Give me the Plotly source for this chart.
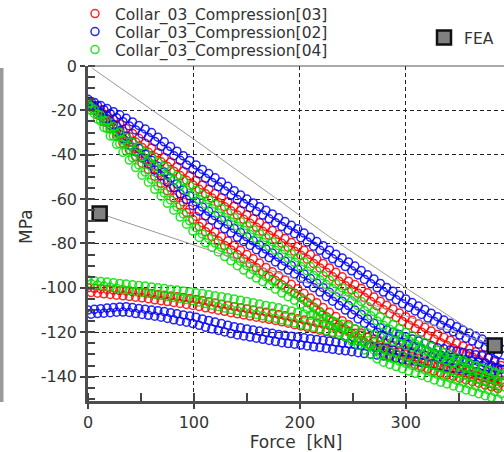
import plotly.graph_objects as go

# ---------------- data ----------------
# two passes of each branch are visible; pass A sampled at FORCE_KN, pass B at FORCE_KN_B
FORCE_KN = [0, 6, 12, 18, 24, 30, 36, 42, 48, 54, 60,
            66, 72, 78, 84, 90, 96, 102, 108, 114, 120, 126,
            132, 138, 144, 150, 156, 162, 168, 174, 180, 186, 192,
            198, 204, 210, 216, 222, 228, 234, 240, 246, 252, 258,
            264, 270, 276, 282, 288, 294, 300, 306, 312, 318, 324,
            330, 336, 342, 348, 354, 360, 366, 372, 378, 384, 390]
FORCE_KN_B = [3, 9, 15, 21, 27, 33, 39, 45, 51, 57,
              63, 69, 75, 81, 87, 93, 99, 105, 111, 117,
              123, 129, 135, 141, 147, 153, 159, 165, 171, 177,
              183, 189, 195, 201, 207, 213, 219, 225, 231, 237,
              243, 249, 255, 261, 267, 273, 279, 285, 291, 297,
              303, 309, 315, 321, 327, 333, 339, 345, 351, 357,
              363, 369, 375, 381, 387]

# Collar_03_Compression[02] (blue)
BLUE_UPPER = [-15, -16.4, -17.8, -19.2, -20.6, -22, -23.6, -25.2, -26.8, -28.4, -30,
              -32.1, -34.2, -36.3, -38.4, -40.5, -42.6, -44.6, -46.6, -48.5, -50.4, -52.3,
              -54.2, -56.2, -58.1, -60, -61.7, -63.4, -65, -66.7, -68.4, -70.1, -71.8,
              -73.4, -75.3, -77.2, -79.1, -81, -83, -84.8, -86.5, -88.3, -90.2, -92.2,
              -94.1, -96, -98, -99.8, -101.5, -103.3, -105, -106.6, -108.2, -109.8, -111.4,
              -113, -114.5, -116, -117.5, -119, -120.3, -121.7, -123, -124.5, -126, -127.5]
BLUE_UPPER_B = [-16, -17.9, -19.7, -21.5, -23.3, -25.1, -27, -28.8, -30.6, -32.2,
                -34, -36.2, -38.3, -40.4, -42.5, -44.6, -46.6, -48.6, -50.6, -52.5,
                -54.4, -56.3, -58.2, -60.2, -62.1, -63.9, -65.6, -67.2, -68.9, -70.6,
                -72.3, -74, -75.6, -77.4, -79.3, -81.2, -83.1, -85, -86.9, -88.7,
                -90.4, -92.3, -94.2, -96.2, -98.1, -100, -101.9, -103.7, -105.4, -107.2,
                -108.8, -110.4, -112, -113.6, -115.2, -116.8, -118.3, -119.8, -121.3, -122.7,
                -124, -125.4, -126.8, -128.3, -129.8]
BLUE_MIDDLE = [-16, -18.6, -21.2, -23.8, -26.4, -29, -31.7, -34.4, -37.1, -39.8, -42.5,
               -45.2, -47.8, -50.5, -53.2, -55.9, -58.5, -61.2, -63.6, -65.5, -67.5, -69.4,
               -71.3, -73.2, -75.1, -77, -78.8, -80.7, -82.5, -84.3, -86.2, -88, -89.9,
               -91.7, -93.7, -95.8, -97.9, -99.9, -102, -104, -106, -108, -110, -112,
               -114, -116, -118, -119, -120, -121, -122, -123, -124, -125, -126,
               -127, -127.5, -128, -128.6, -129.1, -129.6, -130.1, -130.6, -131.4, -132.5, -133.6]
BLUE_MIDDLE_B = [-17.6, -20.7, -23.7, -26.7, -29.7, -32.7, -35.7, -38.6, -41.5, -44.2,
                 -46.9, -49.5, -52.2, -54.9, -57.6, -60.2, -62.9, -65.4, -67.6, -69.5,
                 -71.5, -73.4, -75.3, -77.2, -79.1, -80.9, -82.8, -84.6, -86.4, -88.3,
                 -90.1, -92, -93.8, -95.7, -97.8, -99.9, -101.9, -104, -106, -108,
                 -110, -112, -114, -116, -118, -120, -121.5, -122.5, -123.5, -124.5,
                 -125.5, -126.5, -127.5, -128.5, -129.5, -130.3, -130.8, -131.3, -131.9, -132.4,
                 -132.9, -133.4, -134, -135, -136]
BLUE_LOWER = [-110, -109.7, -109.4, -109.1, -108.9, -108.6, -108.5, -108.9, -109.3, -109.6, -110,
              -110.3, -110.7, -111.2, -111.7, -112.2, -112.7, -113.2, -114, -114.7, -115.4, -116.1,
              -116.8, -117.5, -118, -118.5, -119, -119.5, -120, -120.5, -121, -121.4, -121.8,
              -122.1, -122.5, -122.9, -123.3, -123.6, -124, -124.4, -124.8, -125.1, -125.5, -125.9,
              -126.3, -126.6, -127, -127.5, -128, -128.5, -129, -129.5, -130, -130.4, -130.9,
              -131.4, -131.9, -132.4, -132.8, -133.3, -133.9, -134.4, -135, -135.6, -136.1, -136.7]
BLUE_LOWER_B = [-111.9, -111.6, -111.4, -111.2, -111, -110.9, -111.1, -111.6, -112, -112.4,
                -112.8, -113.2, -113.8, -114.4, -115, -115.5, -116.1, -116.9, -117.8, -118.5,
                -119.2, -119.9, -120.6, -121.2, -121.7, -122.2, -122.7, -123.2, -123.7, -124.2,
                -124.7, -125.1, -125.4, -125.8, -126.2, -126.6, -126.9, -127.3, -127.7, -128.1,
                -128.4, -128.8, -129.2, -129.6, -129.9, -130.3, -130.7, -131.2, -131.7, -132.2,
                -132.7, -133.2, -133.7, -134.1, -134.6, -135.1, -135.6, -136.1, -136.5, -137.1,
                -137.6, -138.2, -138.8, -139.3, -139.9]

# Collar_03_Compression[03] (red)
RED_UPPER = [-16, -18, -20, -22, -24, -26, -28.2, -30.4, -32.6, -34.8, -37,
             -39.1, -41.2, -43.3, -45.4, -47.4, -49.5, -51.6, -53.6, -55.5, -57.5, -59.4,
             -61.3, -63.2, -65.1, -67, -68.8, -70.6, -72.4, -74.2, -76, -77.8, -79.6,
             -81.4, -83.1, -85, -87, -89, -91, -93, -95, -97, -98.5, -100.3,
             -102.2, -104.1, -106, -107.8, -109.5, -111.3, -113, -114.6, -116.2, -117.8, -119.4,
             -121, -122.3, -123.6, -124.9, -126.2, -127.5, -128.8, -130, -131.5, -133.3, -135]
RED_UPPER_B = [-17.3, -19.8, -22.2, -24.6, -27, -29.4, -31.9, -34.3, -36.7, -38.9,
               -41, -43.2, -45.3, -47.4, -49.4, -51.5, -53.6, -55.6, -57.6, -59.5,
               -61.5, -63.4, -65.3, -67.2, -69.1, -70.9, -72.7, -74.5, -76.3, -78.1,
               -79.9, -81.7, -83.5, -85.3, -87.1, -89, -91, -93, -95, -97,
               -99, -100.8, -102.4, -104.3, -106.2, -108.1, -109.9, -111.7, -113.4, -115.2,
               -116.8, -118.4, -120, -121.6, -123.2, -124.7, -126, -127.3, -128.6, -129.9,
               -131.2, -132.4, -133.8, -135.4, -137.2]
RED_MIDDLE = [-17, -19.8, -22.6, -25.4, -28.2, -31, -33.8, -36.6, -39.4, -42.2, -45,
              -48.3, -51.5, -54.8, -58, -61.3, -64.6, -67.8, -70.7, -72.7, -74.8, -76.8,
              -78.9, -80.9, -83, -85, -86.9, -88.8, -90.8, -92.7, -94.6, -96.5, -98.4,
              -100.4, -102.4, -104.6, -106.7, -108.9, -111, -112.9, -114.8, -116.6, -118.5, -120.4,
              -122.3, -124.1, -126, -127, -128, -129, -130, -131, -132, -133, -134,
              -135, -135.8, -136.5, -137.3, -138.1, -138.9, -139.6, -140.4, -141.2, -142, -142.7]
RED_MIDDLE_B = [-18.7, -22, -25.2, -28.4, -31.6, -34.7, -37.8, -40.8, -43.8, -46.6,
                -49.7, -52.9, -56.2, -59.4, -62.7, -66, -69.2, -72.3, -74.7, -76.8,
                -78.8, -80.9, -82.9, -85, -87, -89, -90.9, -92.8, -94.8, -96.7,
                -98.6, -100.5, -102.4, -104.4, -106.5, -108.7, -110.8, -113, -115, -116.9,
                -118.7, -120.6, -122.5, -124.4, -126.2, -128.1, -129.5, -130.5, -131.5, -132.5,
                -133.5, -134.5, -135.5, -136.5, -137.5, -138.4, -139.2, -139.9, -140.7, -141.5,
                -142.3, -143, -143.8, -144.6, -145.4]
RED_LOWER = [-100, -100.2, -100.5, -100.7, -101, -101.2, -101.4, -101.7, -101.9, -102.2, -102.6,
             -103, -103.3, -103.7, -104, -104.4, -104.8, -105.2, -105.7, -106.3, -106.8, -107.4,
             -107.9, -108.5, -109, -109.5, -110, -110.5, -111, -111.5, -112, -112.6, -113.3,
             -113.9, -114.5, -115.1, -115.8, -116.4, -117, -117.9, -118.8, -119.6, -120.5, -121.4,
             -122.3, -123.1, -124, -125, -126, -127, -128, -128.8, -129.7, -130.5, -131.4,
             -132.2, -133, -133.9, -134.7, -135.7, -136.7, -137.7, -138.7, -139.7, -140.7, -141.7]
RED_LOWER_B = [-102.1, -102.4, -102.7, -103, -103.3, -103.6, -103.9, -104.2, -104.5, -104.9,
               -105.4, -105.8, -106.2, -106.6, -107, -107.5, -107.9, -108.4, -109, -109.5,
               -110.1, -110.6, -111.2, -111.7, -112.2, -112.7, -113.2, -113.7, -114.2, -114.7,
               -115.3, -115.9, -116.6, -117.2, -117.8, -118.4, -119.1, -119.7, -120.4, -121.3,
               -122.2, -123, -123.9, -124.8, -125.7, -126.5, -127.5, -128.5, -129.5, -130.5,
               -131.4, -132.2, -133.1, -133.9, -134.8, -135.6, -136.4, -137.3, -138.2, -139.2,
               -140.2, -141.2, -142.2, -143.2, -144.2]

# Collar_03_Compression[04] (green)
GREEN_UPPER = [-17, -19.6, -22.2, -24.8, -27.4, -30, -32.2, -34.4, -36.6, -38.8, -41,
               -43.2, -45.3, -47.4, -49.6, -51.8, -53.9, -56.1, -58.2, -60.3, -62.3, -64.3,
               -66.3, -68.3, -70.1, -72, -73.8, -75.6, -77.4, -79.2, -81, -82.8, -84.6,
               -86.4, -88.3, -90.4, -92.4, -94.5, -96.5, -98.2, -100, -101.7, -103.8, -106.1,
               -108.4, -110.7, -113, -114.8, -116.5, -118.3, -120, -121.6, -123.2, -124.8, -126.4,
               -128, -129.2, -130.3, -131.5, -132.7, -133.9, -135, -136.2, -137.4, -138.5, -139.6]
GREEN_UPPER_B = [-18.6, -21.7, -24.7, -27.7, -30.7, -33.4, -35.9, -38.3, -40.7, -42.9,
                 -45.1, -47.3, -49.4, -51.5, -53.7, -55.9, -58, -60.2, -62.3, -64.3,
                 -66.3, -68.3, -70.3, -72.2, -74, -75.9, -77.7, -79.5, -81.3, -83.1,
                 -84.9, -86.7, -88.5, -90.4, -92.4, -94.4, -96.5, -98.5, -100.4, -102.1,
                 -103.9, -105.8, -108, -110.3, -112.6, -114.9, -116.9, -118.7, -120.4, -122.2,
                 -123.8, -125.4, -127, -128.6, -130.2, -131.6, -132.8, -133.9, -135.1, -136.3,
                 -137.5, -138.6, -139.8, -141, -142]
GREEN_MIDDLE = [-18, -21.4, -24.8, -28.2, -31.6, -35, -38.2, -41.4, -44.6, -47.8, -51,
                -54.1, -57.3, -60.4, -63.5, -66.7, -69.8, -72.9, -75.7, -77.7, -79.8, -81.8,
                -83.9, -85.9, -88, -90, -91.7, -93.4, -95, -96.7, -98.4, -100.1, -101.8,
                -103.4, -105.4, -107.6, -109.7, -111.9, -114, -116, -118, -120, -122, -124,
                -126, -128, -130, -131, -132, -133, -134, -135, -136, -137, -138,
                -139, -139.9, -140.7, -141.6, -142.5, -143.4, -144.2, -145.1, -146, -146.8, -147.7]
GREEN_MIDDLE_B = [-20, -23.9, -27.7, -31.5, -35.3, -38.9, -42.4, -45.8, -49.2, -52.4,
                  -55.6, -58.7, -61.9, -65, -68.1, -71.3, -74.4, -77.3, -79.7, -81.8,
                  -83.8, -85.9, -87.9, -90, -92, -93.9, -95.6, -97.2, -98.9, -100.6,
                  -102.3, -104, -105.6, -107.4, -109.5, -111.7, -113.8, -116, -118, -120,
                  -122, -124, -126, -128, -130, -132, -133.5, -134.5, -135.5, -136.5,
                  -137.5, -138.5, -139.5, -140.5, -141.5, -142.5, -143.3, -144.2, -145.1, -146,
                  -146.8, -147.7, -148.6, -149.4, -150.2]
GREEN_LOWER = [-96.5, -96.8, -97.1, -97.4, -97.7, -98, -98.3, -98.6, -98.9, -99.2, -99.6,
               -100, -100.3, -100.7, -101, -101.4, -101.8, -102.2, -102.6, -103.1, -103.6, -104,
               -104.5, -105, -105.6, -106.1, -106.7, -107.3, -107.9, -108.4, -109, -109.7, -110.4,
               -111.1, -111.8, -112.4, -113.1, -113.8, -114.5, -115.5, -116.4, -117.4, -118.4, -119.3,
               -120.3, -121.2, -122.2, -123.2, -124.1, -125.1, -126, -126.8, -127.7, -128.5, -129.4,
               -130.2, -131, -131.9, -132.7, -133.6, -134.4, -135.3, -136.1, -137, -137.9, -138.7]
GREEN_LOWER_B = [-98.2, -98.7, -99.2, -99.7, -100.2, -100.7, -101.2, -101.7, -102.1, -102.5,
                 -103, -103.5, -103.9, -104.4, -104.8, -105.3, -105.8, -106.4, -107.1, -107.8,
                 -108.4, -109.1, -109.8, -110.3, -110.9, -111.4, -112, -112.6, -113.2, -113.7,
                 -114.4, -115.1, -115.8, -116.5, -117.1, -117.8, -118.5, -119.2, -120, -121,
                 -121.9, -122.9, -123.9, -124.8, -125.8, -126.7, -127.7, -128.7, -129.6, -130.6,
                 -131.4, -132.3, -133.1, -134, -134.8, -135.6, -136.5, -137.3, -138.2, -139,
                 -139.9, -140.7, -141.6, -142.5, -143.3]

# FEA results and connecting lines
FEA_FORCE = [11, 384]
FEA_MPA = [-66.5, -126]
FEA_LINE_FORCE = [4, 100, 228, 300, 384, None, 11, 384]
FEA_LINE_MPA = [-1, -33, -77, -100, -126, None, -66.5, -126]

X_TICKS = [0, 100, 200, 300]
X_TICK_TEXT = ["0", "100", "200", "300"]
Y_TICKS = [0, -20, -40, -60, -80, -100, -120, -140]
Y_TICK_TEXT = ["0", "-20", "-40", "-60", "-80", "-100", "-120", "-140"]

FONT = "DejaVu Sans"
TXT = "#333333"

SERIES = [
    ("Collar_03_Compression[03]", "rgba(255,0,0,0.85)",
     [RED_UPPER, RED_MIDDLE, RED_LOWER], [RED_UPPER_B, RED_MIDDLE_B, RED_LOWER_B], "legend"),
    ("Collar_03_Compression[02]", "rgba(0,0,255,0.85)",
     [BLUE_UPPER, BLUE_MIDDLE, BLUE_LOWER], [BLUE_UPPER_B, BLUE_MIDDLE_B, BLUE_LOWER_B], "legend2"),
    ("Collar_03_Compression[04]", "rgba(0,225,0,0.85)",
     [GREEN_UPPER, GREEN_MIDDLE, GREEN_LOWER], [GREEN_UPPER_B, GREEN_MIDDLE_B, GREEN_LOWER_B], "legend3"),
]

fig = go.Figure()
for name, color, branches_a, branches_b, leg in SERIES:
    xs, ys = [], []
    for b in branches_a:
        assert len(b) == len(FORCE_KN)
        xs += FORCE_KN
        ys += b
    for b in branches_b:
        assert len(b) == len(FORCE_KN_B)
        xs += FORCE_KN_B
        ys += b
    fig.add_trace(go.Scatter(
        x=xs, y=ys, mode="markers", name=name, legend=leg,
        marker=dict(symbol="circle-open", size=8, color=color, line=dict(width=1.5, color=color)),
    ))

fig.add_trace(go.Scatter(
    x=FEA_LINE_FORCE, y=FEA_LINE_MPA, mode="lines", showlegend=False,
    line=dict(color="#9a9a9a", width=1), hoverinfo="skip",
))
fig.add_trace(go.Scatter(
    x=FEA_FORCE, y=FEA_MPA, mode="markers", name="FEA", legend="legend4",
    marker=dict(symbol="square", size=14, color="#808080", line=dict(color="#111111", width=2.5)),
))

W, H = 504, 452
L, R, T, B = 88, 0, 66, 51
PW, PH = W - L - R, H - T - B


def leg(xpx, ypx):
    return dict(x=xpx / W, y=1 - ypx / H, xref="container", yref="container",
                xanchor="left", yanchor="middle", bgcolor="rgba(0,0,0,0)",
                font=dict(family=FONT, size=15.5, color=TXT))


axis_common = dict(
    showline=True, linewidth=2.5, linecolor="#4d4d4d",
    ticks="outside", ticklen=5, tickwidth=1.5, tickcolor="#444444",
    showgrid=True, gridcolor="#222222", gridwidth=1.2, griddash="4px,3px",
    zeroline=False, tickfont=dict(family=FONT, size=16, color=TXT),
)

fig.update_layout(
    width=W, height=H,
    margin=dict(l=L, r=R, t=T, b=B, autoexpand=False),
    plot_bgcolor="white", paper_bgcolor="white",
    legend=leg(75, 14), legend2=leg(75, 32), legend3=leg(75, 50), legend4=leg(424, 38),
    xaxis=dict(range=[0, 392.8], tickmode="array", tickvals=X_TICKS, ticktext=X_TICK_TEXT,
               minor=dict(ticks="inside", ticklen=8, dtick=50, tick0=0, tickcolor="#444444",
                          tickwidth=1.5, showgrid=False),
               title=dict(text="Force\u00a0 [kN]", font=dict(family=FONT, size=17, color=TXT), standoff=4),
               **axis_common),
    yaxis=dict(range=[-151, 0], tickmode="array", tickvals=Y_TICKS, ticktext=Y_TICK_TEXT,
               minor=dict(ticks="inside", ticklen=7, dtick=5, tick0=0, tickcolor="#444444",
                          tickwidth=1.5, showgrid=False),
               **axis_common),
    annotations=[
        dict(text="MPa", textangle=-90, xref="paper", yref="paper",
             x=(26 - L) / PW, y=(H - B - 227) / PH, showarrow=False,
             xanchor="center", yanchor="middle",
             font=dict(family=FONT, size=17, color=TXT)),
    ],
    shapes=[
        dict(type="line", xref="paper", yref="paper", x0=0, x1=1, y0=1, y1=1,
             line=dict(color="#555555", width=1)),
        dict(type="rect", xref="paper", yref="paper",
             x0=-L / PW, x1=(3.5 - L) / PW, y0=-1 / PH, y1=(H - B - 68) / PH,
             fillcolor="#9a9a9a", line=dict(width=0)),
    ],
)

fig.write_html("out.html", config={"displayModeBar": False})
